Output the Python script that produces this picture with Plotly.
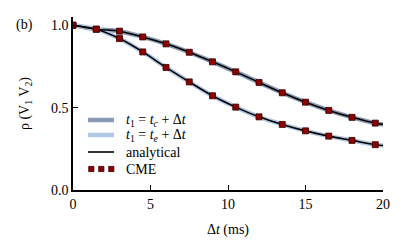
import plotly.graph_objects as go

dt = [0, 1.5, 3, 4.5, 6, 7.5, 9, 10.5, 12, 13.5, 15, 16.5, 18, 19.5]
rho_c = [1.0, 0.976, 0.964, 0.929, 0.887, 0.836, 0.778, 0.717, 0.653, 0.590, 0.533, 0.483, 0.441, 0.406]
rho_e = [1.0, 0.976, 0.919, 0.838, 0.744, 0.656, 0.572, 0.503, 0.444, 0.398, 0.359, 0.327, 0.301, 0.275]
line_dt = dt + [20]
line_c = rho_c + [0.398]
line_e = rho_e + [0.270]

legend_labels = ["<i>t</i><sub>1</sub> = <i>t<sub>c</sub></i> + Δ<i>t</i>",
                 "<i>t</i><sub>1</sub> = <i>t<sub>e</sub></i> + Δ<i>t</i>",
                 "analytical", "CME"]

FONT = "Liberation Serif"
C_BAND = "#8a9bb5"
E_BAND = "#b0c8e4"
RED = "#8b0000"

fig = go.Figure()
fig.add_trace(go.Scatter(x=line_dt, y=line_c, mode="lines", line=dict(color=C_BAND, width=4.5, shape="spline"),
                         name=legend_labels[0]))
fig.add_trace(go.Scatter(x=line_dt, y=line_e, mode="lines", line=dict(color=E_BAND, width=4.5, shape="spline"),
                         name=legend_labels[1]))
fig.add_trace(go.Scatter(x=line_dt, y=line_c, mode="lines", line=dict(color="black", width=1.6, shape="spline"),
                         name=legend_labels[2]))
fig.add_trace(go.Scatter(x=line_dt, y=line_e, mode="lines", line=dict(color="black", width=1.6, shape="spline"),
                         name=legend_labels[2]))
fig.add_trace(go.Scatter(x=dt, y=rho_c, mode="markers",
                         marker=dict(symbol="square", size=6, color=RED, line=dict(color="#3a0000", width=0.8)),
                         name=legend_labels[3]))
fig.add_trace(go.Scatter(x=dt, y=rho_e, mode="markers",
                         marker=dict(symbol="square", size=6, color=RED, line=dict(color="#3a0000", width=0.8)),
                         name=legend_labels[3]))

# hand-drawn legend (plot area: 310 x 173 px)
PW, PH = 310.0, 173.0
def px_x(p):
    return (p - 73) / PW
def px_y(p):
    return (190 - p) / PH

rows = [120, 135, 152, 169]
shapes = []
annotations = []
shapes.append(dict(type="line", xref="paper", yref="paper", x0=px_x(88), x1=px_x(114), y0=px_y(rows[0]), y1=px_y(rows[0]),
                   line=dict(color=C_BAND, width=4.5)))
shapes.append(dict(type="line", xref="paper", yref="paper", x0=px_x(88), x1=px_x(114), y0=px_y(rows[1]), y1=px_y(rows[1]),
                   line=dict(color=E_BAND, width=4.5)))
shapes.append(dict(type="line", xref="paper", yref="paper", x0=px_x(88), x1=px_x(114), y0=px_y(rows[2]), y1=px_y(rows[2]),
                   line=dict(color="black", width=1.6)))
for cx in (91.3, 101.3, 111.3):
    shapes.append(dict(type="rect", xref="paper", yref="paper", x0=px_x(cx - 2.6), x1=px_x(cx + 2.6),
                       y0=px_y(rows[3] + 2.6), y1=px_y(rows[3] - 2.6),
                       fillcolor=RED, line=dict(color="#3a0000", width=0.8)))
for lab, r in zip(legend_labels, rows):
    annotations.append(dict(text=lab, xref="paper", yref="paper", x=px_x(124), y=px_y(r), xanchor="left",
                            yanchor="middle", showarrow=False, font=dict(size=14)))
annotations.append(dict(text="(b)", xref="paper", yref="paper", x=px_x(24), y=px_y(25), xanchor="center",
                        yanchor="middle", showarrow=False, font=dict(size=14)))

# page body has an 8px margin; figure sized so that the picture spans the 408x252 window
fig.update_layout(
    width=400, height=244,
    margin=dict(l=65, r=25, t=9, b=62),
    paper_bgcolor="white", plot_bgcolor="white",
    font=dict(family=FONT, size=14, color="black"),
    showlegend=False,
    xaxis=dict(range=[0, 20], tickvals=[0, 5, 10, 15, 20], showline=True, linecolor="black", linewidth=1.5,
               ticks="inside", ticklen=5, tickcolor="black", tickwidth=1, showgrid=False, zeroline=False,
               automargin=False, tickfont=dict(size=14),
               title=dict(text="Δ<i>t</i> (ms)", standoff=14, font=dict(size=14))),
    yaxis=dict(range=[0, 1.05], tickvals=[0, 0.5, 1.0], ticktext=["0.0", "0.5", "1.0"], showline=True,
               linecolor="black", linewidth=1.5, ticks="inside", ticklen=5, tickcolor="black", tickwidth=1,
               showgrid=False, zeroline=False, automargin=False, tickfont=dict(size=14),
               title=dict(text="ρ (V<sub>1</sub> V<sub>2</sub>)", standoff=18, font=dict(size=14))),
    shapes=shapes,
    annotations=annotations,
)
fig.write_html("out.html")
